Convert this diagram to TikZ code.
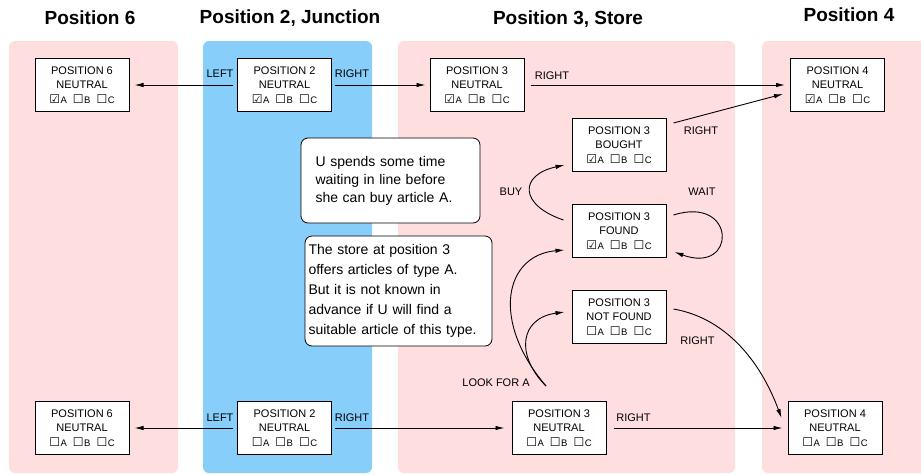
\documentclass[tikz,border=0pt]{standalone}
\usepackage{fontspec}
\setmainfont{Liberation Sans}
\newfontfamily\boxglyphs{DejaVu Sans}
\usetikzlibrary{arrows.meta}

\definecolor{panelpink}{RGB}{255,222,223}
\definecolor{panelblue}{RGB}{135,206,250}

\newcommand{\boxon}[1]{{\boxglyphs\fontsize{12}{10}\selectfont ☑}\hspace{0.5pt}{\fontsize{9.5}{10}\selectfont #1}}
\newcommand{\boxoff}[1]{{\boxglyphs\fontsize{12}{10}\selectfont ☐}\hspace{0.5pt}{\fontsize{9.5}{10}\selectfont #1}}

\tikzset{
	state/.style={draw=black, line width=1pt, fill=white, minimum width=94pt, minimum height=53pt, inner sep=2pt, align=center, font=\fontsize{11}{14.5}\selectfont},
	note/.style={draw=black, line width=0.8pt, fill=white, rounded corners=7pt, align=left, inner sep=0pt},
	lbl/.style={font=\fontsize{11}{13}\selectfont, inner sep=1pt},
	title/.style={font=\bfseries\fontsize{19}{22}\selectfont},
	arr/.style={-{Latex[length=9pt,width=4.5pt]}, line width=0.9pt}
}

\begin{document}
\begin{tikzpicture}[x=1pt, y=1pt]
	\useasboundingbox (0,0) rectangle (921,-474);
	\clip (0,0) rectangle (921,-474);

	% panels
	\fill[panelpink, rounded corners=6pt] (9,-41) rectangle (178,-473); % Position 6
	\fill[panelblue, rounded corners=6pt] (203,-41) rectangle (372,-473); % Position 2
	\fill[panelpink, rounded corners=6pt] (398,-41) rectangle (735,-473); % Position 3
	\fill[panelpink, rounded corners=6pt] (762,-41) rectangle (940,-473); % Position 4

	\node[title] (tPos6) at (90,-18) {Position 6};
	\node[title] (tPos2) at (290,-18) {Position 2, Junction};
	\node[title] (tPos3) at (568,-19) {Position 3, Store};
	\node[title] (tPos4) at (849,-15) {Position 4};

	% upper row
	\node[state] (p6t) at (82,-85) {POSITION 6\\NEUTRAL\\\boxon{A}\hspace{6pt}\boxoff{B}\hspace{6pt}\boxoff{C}};
	\node[state] (p2t) at (284.5,-85) {POSITION 2\\NEUTRAL\\\boxon{A}\hspace{6pt}\boxoff{B}\hspace{6pt}\boxoff{C}};
	\node[state] (p3t) at (477,-85) {POSITION 3\\NEUTRAL\\\boxon{A}\hspace{6pt}\boxoff{B}\hspace{6pt}\boxoff{C}};
	\node[state] (p4t) at (837.5,-85) {POSITION 4\\NEUTRAL\\\boxon{A}\hspace{6pt}\boxoff{B}\hspace{6pt}\boxoff{C}};

	% store states
	\node[state] (p3b) at (619,-145) {POSITION 3\\BOUGHT\\\boxon{A}\hspace{6pt}\boxoff{B}\hspace{6pt}\boxoff{C}};
	\node[state] (p3f) at (619,-231) {POSITION 3\\FOUND\\\boxon{A}\hspace{6pt}\boxoff{B}\hspace{6pt}\boxoff{C}};
	\node[state] (p3nf) at (619,-317) {POSITION 3\\NOT FOUND\\\boxoff{A}\hspace{6pt}\boxoff{B}\hspace{6pt}\boxoff{C}};

	% lower row
	\node[state] (p6b) at (82,-428) {POSITION 6\\NEUTRAL\\\boxoff{A}\hspace{6pt}\boxoff{B}\hspace{6pt}\boxoff{C}};
	\node[state] (p2b) at (284.5,-428) {POSITION 2\\NEUTRAL\\\boxoff{A}\hspace{6pt}\boxoff{B}\hspace{6pt}\boxoff{C}};
	\node[state] (p3n) at (559,-428) {POSITION 3\\NEUTRAL\\\boxoff{A}\hspace{6pt}\boxoff{B}\hspace{6pt}\boxoff{C}};
	\node[state] (p4b) at (835,-428) {POSITION 4\\NEUTRAL\\\boxoff{A}\hspace{6pt}\boxoff{B}\hspace{6pt}\boxoff{C}};

	% notes
	\node[note, minimum width=179pt, minimum height=85pt, text width=150pt, font=\fontsize{14}{18}\selectfont] (noteWait) at (390.5,-180.5) {U spends some time\\waiting in line before\\she can buy article A.};
	\node[note, minimum width=187pt, minimum height=110pt, text width=180pt, font=\fontsize{14}{20}\selectfont] (noteStore) at (398.5,-291) {The store at position 3\\offers articles of type A.\\But it is not known in\\advance if U will find a\\suitable article of this type.};

	% moves, upper row
	\draw[arr, shorten <=4pt, shorten >=5pt] (p2t.west) -- (p6t.east);
	\draw[arr, shorten <=3pt, shorten >=4pt] (p2t.east) -- (p3t.west);
	\draw[arr, shorten <=6pt, shorten >=5pt] (p3t.east) -- (p4t.west);
	\draw[arr] ([xshift=7pt, yshift=22pt]p3b.east) -- ([xshift=-7pt, yshift=-9pt]p4t.west);
	\node[lbl] (lLeftT) at (220,-73.5) {LEFT};
	\node[lbl] (lRightT) at (352,-73.5) {RIGHT};
	\node[lbl] (lRightS) at (552,-76) {RIGHT};
	\node[lbl] (lRightB) at (701,-131) {RIGHT};

	% moves in the store
	\draw[arr] ([xshift=-8pt, yshift=11pt]p3f.west) .. controls (519,-205) and (519,-175) .. ([xshift=-7pt, yshift=-20pt]p3b.west);
	\draw[arr] ([xshift=7pt, yshift=16pt]p3f.east) .. controls (737,-195) and (737,-275) .. ([xshift=8pt, yshift=-21pt]p3f.east);
	\coordinate (look) at ([xshift=-13pt, yshift=15pt]p3n.north);
	\draw[arr] (look) .. controls (490,-320) and (505,-255) .. ([xshift=-7pt, yshift=-19pt]p3f.west);
	\draw[arr] (look) .. controls (515,-355) and (520,-318) .. ([xshift=-7pt, yshift=5pt]p3nf.west);
	\draw[arr] ([xshift=7pt, yshift=8pt]p3nf.east) .. controls (725,-318) and (760,-360) .. ([xshift=-6pt, yshift=10pt]p4b.west);
	\node[lbl] (lBuy) at (511,-192) {BUY};
	\node[lbl] (lWait) at (702,-192) {WAIT};
	\node[lbl] (lLook) at (496,-383) {LOOK FOR A};
	\node[lbl] (lRightNF) at (697.5,-341) {RIGHT};

	% moves, lower row
	\draw[arr, shorten <=4pt, shorten >=5pt] (p2b.west) -- (p6b.east);
	\draw[arr, shorten <=3pt, shorten >=7pt] (p2b.east) -- (p3n.west);
	\draw[arr, shorten <=7pt, shorten >=5pt] (p3n.east) -- (p4b.west);
	\node[lbl] (lLeftL) at (220,-417.5) {LEFT};
	\node[lbl] (lRightL) at (352,-417.5) {RIGHT};
	\node[lbl] (lRightN) at (633.5,-417.5) {RIGHT};
\end{tikzpicture}
\end{document}
